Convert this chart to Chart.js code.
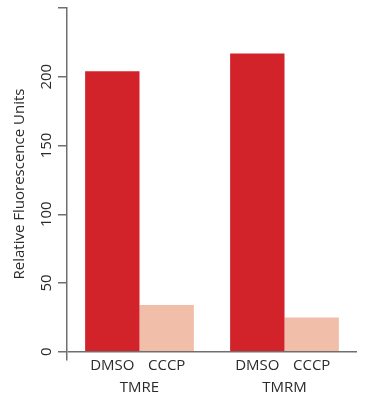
<!DOCTYPE html>
<html>
<head>
<meta charset="utf-8">
<script src="https://cdn.jsdelivr.net/npm/chart.js@4/dist/chart.umd.min.js"></script>
<style>
  html, body { margin: 0; padding: 0; background: #fff; }
  #wrap { width: 387px; height: 400px; }
</style>
</head>
<body>
<div id="wrap"><canvas id="chart"></canvas></div>
<script>
// data
const groups = ['TMRE', 'TMRM'];
const seriesNames = ['DMSO', 'CCCP'];
const dmsoValues = [204, 217];
const cccpValues = [34, 25];
const yTicks = [0, 50, 100, 150, 200, 250];
const yLabelled = [0, 50, 100, 150, 200];

const axisColor = '#6f6f6f';
const textColor = '#2b2b2b';
const fontFamily = '"Open Sans", sans-serif';

// names under each bar, placed at the bar's own x
const barNames = {
  id: 'barNames',
  afterDraw(chart) {
    const ctx = chart.ctx;
    ctx.save();
    ctx.font = '15px ' + fontFamily;
    ctx.fillStyle = textColor;
    ctx.textAlign = 'center';
    ctx.textBaseline = 'middle';
    chart.data.datasets.forEach((ds, i) => {
      chart.getDatasetMeta(i).data.forEach(bar => {
        ctx.fillText(ds.label, bar.x, 366);
      });
    });
    ctx.restore();
  }
};

new Chart(document.getElementById('chart'), {
  type: 'bar',
  data: {
    labels: groups,
    datasets: [
      { label: seriesNames[0], data: dmsoValues, backgroundColor: '#d2232a' },
      { label: seriesNames[1], data: cccpValues, backgroundColor: '#f0bea9' }
    ]
  },
  options: {
    responsive: true,
    maintainAspectRatio: false,
    animation: false,
    layout: { padding: { top: 8, right: 30, left: 0, bottom: 0 } },
    datasets: { bar: { categoryPercentage: 0.75, barPercentage: 1.0 } },
    plugins: { legend: { display: false }, tooltip: { enabled: false } },
    scales: {
      x: {
        afterFit: (axis) => { axis.height = 40; },
        grid: { display: false },
        border: { display: false },
        ticks: { color: textColor, font: { family: fontFamily, size: 15 }, padding: 11 }
      },
      y: {
        min: -6,
        max: 250,
        afterBuildTicks: (axis) => { axis.ticks = yTicks.map(v => ({ value: v })); },
        afterFit: (axis) => { axis.width = 67; },
        border: { display: true, color: axisColor, width: 1.5 },
        grid: {
          color: (c) => (c.tick && c.tick.value === 0) ? axisColor : 'rgba(0,0,0,0)',
          tickColor: axisColor,
          tickLength: 9,
          lineWidth: 1.5
        },
        ticks: {
          color: textColor,
          font: { family: fontFamily, size: 15 },
          minRotation: 90,
          maxRotation: 90,
          crossAlign: 'center',
          padding: -2,
          callback: (v) => yLabelled.includes(v) ? String(v) : ''
        },
        title: {
          display: true,
          text: 'Relative Fluorescence Units',
          color: textColor,
          font: { family: fontFamily, size: 15 },
          padding: { top: 11, bottom: 0 }
        }
      }
    }
  },
  plugins: [barNames]
});
</script>
</body>
</html>
